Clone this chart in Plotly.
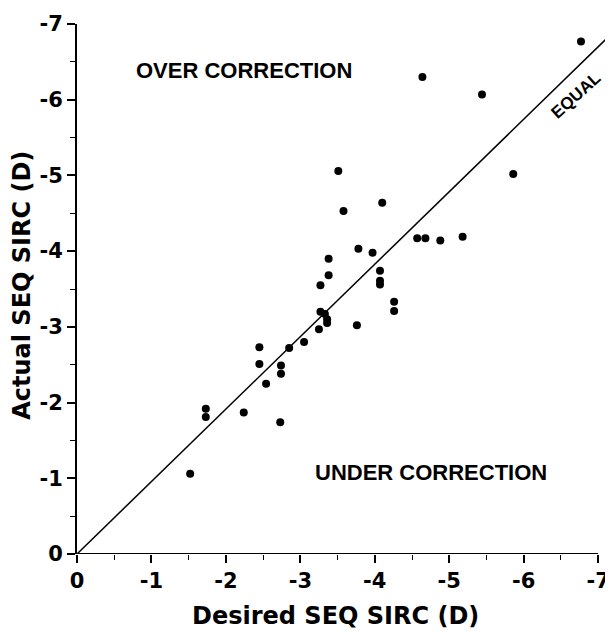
import plotly.graph_objects as go

# Desired vs actual SEQ SIRC (D)
desired = [-1.52, -1.73, -1.73, -2.24, -2.45, -2.45, -2.54, -2.74, -2.74, -2.73,
           -2.85, -3.05, -3.25, -3.27, -3.33, -3.36, -3.36, -3.27, -3.38, -3.38,
           -3.76, -3.78, -3.97, -4.07, -4.07, -4.07, -4.26, -4.26, -3.51, -3.58,
           -4.10, -4.57, -4.68, -4.88, -5.18, -4.64, -5.44, -5.86, -6.77]
actual = [-1.06, -1.92, -1.81, -1.87, -2.73, -2.51, -2.25, -2.49, -2.38, -1.74,
          -2.72, -2.80, -2.97, -3.20, -3.17, -3.10, -3.05, -3.55, -3.68, -3.90,
          -3.02, -4.03, -3.98, -3.74, -3.61, -3.56, -3.33, -3.21, -5.06, -4.53,
          -4.64, -4.17, -4.17, -4.14, -4.19, -6.30, -6.07, -5.02, -6.77]

equal_x = [0, -7.19]
equal_y = [0, -6.88]

tick_vals = [0, -1, -2, -3, -4, -5, -6, -7]
tick_text = ["0", "-1", "-2", "-3", "-4", "-5", "-6", "-7"]

SANS = "Liberation Sans, Arial, Helvetica, sans-serif"
WIDE = "DejaVu Sans, Liberation Sans, Arial, sans-serif"

fig = go.Figure()
fig.add_trace(go.Scatter(x=equal_x, y=equal_y, mode="lines",
                         line=dict(color="black", width=1.5), hoverinfo="skip"))
fig.add_trace(go.Scatter(x=desired, y=actual, mode="markers",
                         marker=dict(color="black", size=8), cliponaxis=False))

# x axis line only up to -7
fig.add_shape(type="line", xref="x", yref="y", x0=0, y0=0, x1=-7, y1=0,
              line=dict(color="black", width=2))

axis_common = dict(
    tickvals=tick_vals, ticktext=tick_text, ticks="outside", ticklen=8,
    tickwidth=1.5, tickcolor="black", showgrid=False, zeroline=False,
    automargin=False,
    tickfont=dict(family=WIDE, size=21, color="black", weight="bold"),
    minor=dict(dtick=0.5, tick0=0, ticks="outside", ticklen=5,
               tickcolor="black", tickwidth=1.2, showgrid=False),
)

fig.update_xaxes(range=[0, -7.2], showline=False, **axis_common)
fig.update_yaxes(range=[0, -7], showline=True, linecolor="black", linewidth=2,
                 **axis_common)

ann_font = dict(family=SANS, size=22, color="black", weight="bold")
fig.add_annotation(x=-2.24, y=-6.39, xref="x", yref="y", text="OVER CORRECTION",
                   showarrow=False, font=ann_font)
fig.add_annotation(x=-4.76, y=-1.08, xref="x", yref="y", text="UNDER CORRECTION",
                   showarrow=False, font=ann_font)
fig.add_annotation(x=-6.70, y=-6.06, xref="x", yref="y", text="EQUAL",
                   showarrow=False, textangle=-42,
                   font=dict(family=SANS, size=17, color="black", weight="bold"))

title_font = dict(family=WIDE, size=24, color="black", weight="bold")
fig.add_annotation(x=0.483, y=-0.117, xref="paper", yref="paper",
                   text="Desired SEQ SIRC (D)", showarrow=False, font=title_font,
                   xanchor="center", yanchor="middle")
fig.add_annotation(x=-0.1017, y=0.507, xref="paper", yref="paper",
                   text="Actual SEQ SIRC (D)", showarrow=False, font=title_font,
                   textangle=-90, xanchor="center", yanchor="middle")

# the page body adds an 8 px offset, so the figure is sized to the visible area
fig.update_layout(
    width=605, height=624,
    margin=dict(l=69, r=0, t=16, b=78, autoexpand=False),
    paper_bgcolor="white", plot_bgcolor="white",
    showlegend=False,
)

fig.write_html("out.html")
